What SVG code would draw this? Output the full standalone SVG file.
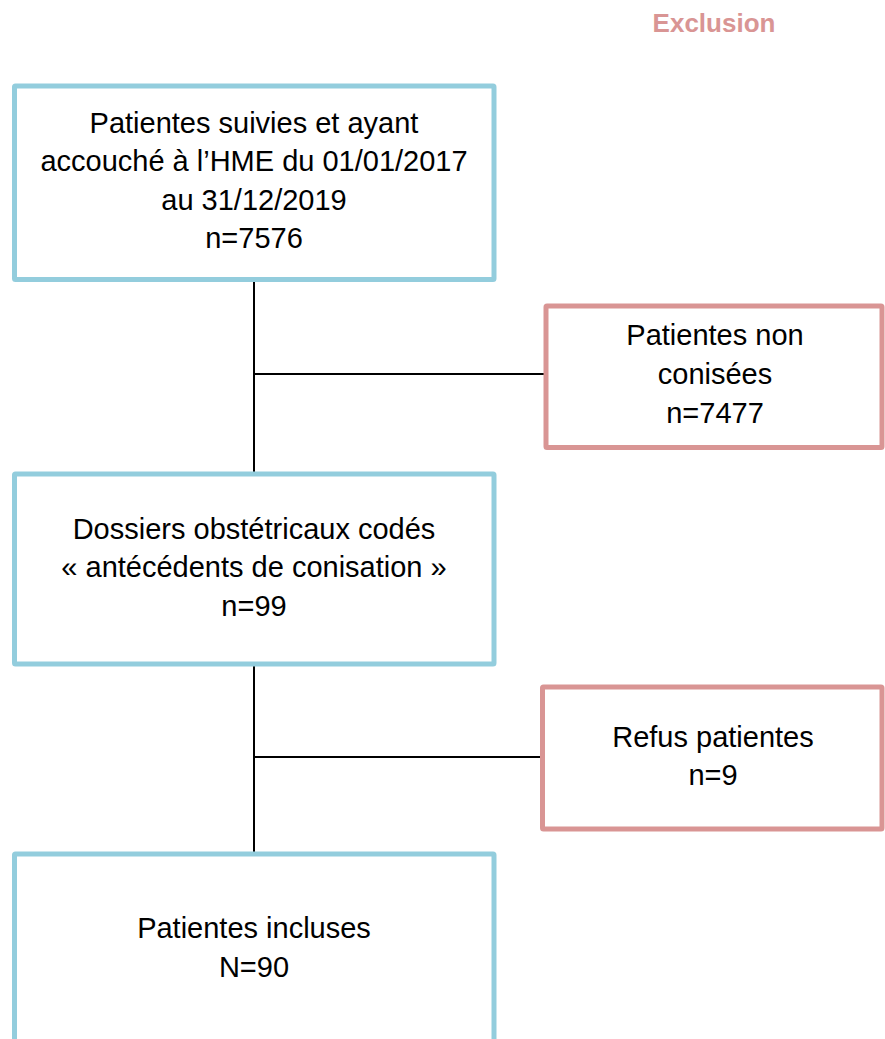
<svg xmlns="http://www.w3.org/2000/svg" width="885" height="1039" viewBox="0 0 885 1039">
<style>
.blue{fill:#ffffff;stroke:#93CDDD;stroke-width:5}
.red{fill:#ffffff;stroke:#D99594;stroke-width:5}
.t{font-family:"Liberation Sans",Arial,sans-serif;font-size:29px;fill:#000000;text-anchor:middle}
.hdr{font-family:"Liberation Sans",Arial,sans-serif;font-size:26px;font-weight:bold;fill:#D99594;text-anchor:middle}
.c{stroke:#000000;stroke-width:2;fill:none}
</style>
<rect width="885" height="1039" fill="#ffffff"/>
<text class="hdr" x="714" y="32">Exclusion</text>
<g id="connectors">
<line class="c" x1="254" y1="282" x2="254" y2="472"/>
<line class="c" x1="254" y1="374" x2="544" y2="374"/>
<line class="c" x1="254" y1="666" x2="254" y2="852"/>
<line class="c" x1="254" y1="757" x2="541" y2="757"/>
</g>
<g id="n1">
<rect class="blue" x="14.5" y="86" width="479.5" height="193.5" rx="1"/>
<text class="t" x="254" y="133">Patientes suivies et ayant</text>
<text class="t" x="254" y="171">accouché à l’HME du 01/01/2017</text>
<text class="t" x="254" y="210">au 31/12/2019</text>
<text class="t" x="254" y="248">n=7576</text>
</g>
<g id="n2">
<rect class="red" x="546" y="306" width="336" height="141.5" rx="1"/>
<text class="t" x="715" y="345">Patientes non</text>
<text class="t" x="715" y="384">conisées</text>
<text class="t" x="715" y="423"> n=7477</text>
</g>
<g id="n3">
<rect class="blue" x="14.5" y="474" width="479.5" height="190" rx="1"/>
<text class="t" x="254" y="539">Dossiers obstétricaux codés</text>
<text class="t" x="254" y="577">« antécédents de conisation »</text>
<text class="t" x="254" y="616">n=99</text>
</g>
<g id="n4">
<rect class="red" x="542.5" y="687" width="339.5" height="142" rx="1"/>
<text class="t" x="713" y="747">Refus patientes</text>
<text class="t" x="713" y="785">n=9</text>
</g>
<g id="n5">
<rect class="blue" x="14.5" y="854" width="479.5" height="200" rx="1"/>
<text class="t" x="254" y="938">Patientes incluses</text>
<text class="t" x="254" y="977">N=90</text>
</g>
</svg>
